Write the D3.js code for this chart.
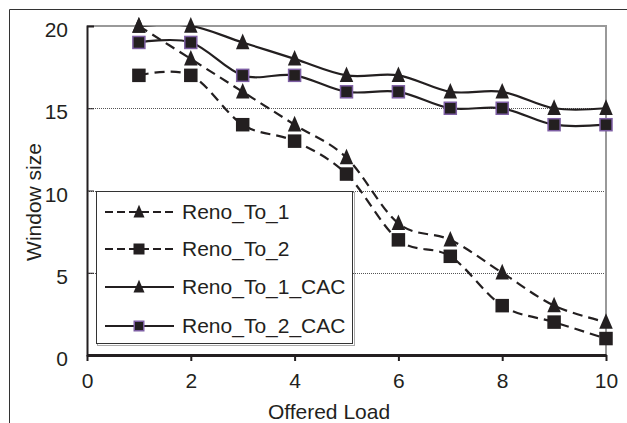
<!DOCTYPE html>
<html><head><meta charset="utf-8">
<script src="https://cdn.jsdelivr.net/npm/d3@7"></script>
<style>body{margin:0;background:#fff}svg{display:block}text{font-family:"Liberation Sans",Arial,sans-serif;fill:#231f20}</style>
</head><body><svg id="c" width="627" height="423"></svg>
<script>
const offeredLoad = [1,2,3,4,5,6,7,8,9,10];
const renoTo1 = [20,18,16,14,12,8,7,5,3,2];
const renoTo2 = [17,17,14,13,11,7,6,3,2,1];
const renoTo1CAC = [20,20,19,18,17,17,16,16,15,15];
const renoTo2CAC = [19,19,17,17,16,16,15,15,14,14];
const seriesNames = ["Reno_To_1","Reno_To_2","Reno_To_1_CAC","Reno_To_2_CAC"];
const xTicks = [0,2,4,6,8,10];
const yTicks = [0,5,10,15,20];

const series = [
  {name:seriesNames[0], values:renoTo1, dash:"10,6", marker:"tri"},
  {name:seriesNames[1], values:renoTo2, dash:"10,6", marker:"sq"},
  {name:seriesNames[2], values:renoTo1CAC, dash:null, marker:"tri"},
  {name:seriesNames[3], values:renoTo2CAC, dash:null, marker:"sqp"}
];

const svg = d3.select("#c");
const ink = "#231f20";
const FS = 21;
const L=87, R=606, T=26, B=355;
const x = d3.scaleLinear().domain([0,10]).range([L,R]);
const y = d3.scaleLinear().domain([0,20]).range([B,T]);

svg.append("defs").append("clipPath").attr("id","pa").append("rect")
  .attr("x",L).attr("y",T).attr("width",R-L).attr("height",B-T);

// outer frame
svg.append("path").attr("d","M9.5,430 V9.5 H640").attr("fill","none").attr("stroke","#333").attr("stroke-width",1);

// gridlines
svg.append("g").selectAll("line").data(yTicks.filter(d=>d>0&&d<20)).join("line")
  .attr("x1",L).attr("x2",R).attr("y1",d=>Math.round(y(d))+0.5).attr("y2",d=>Math.round(y(d))+0.5)
  .attr("stroke","#555").attr("stroke-width",1).attr("stroke-dasharray","1,1");

// plot border top/right
svg.append("path").attr("d",`M${L},${T} H${R} V${B}`).attr("fill","none").attr("stroke","#999").attr("stroke-width",2);

// y axis
const yAxis = d3.axisLeft(y).tickValues(yTicks).tickSize(-7).tickPadding(19).tickFormat(d3.format("d"));
const gy = svg.append("g").attr("transform",`translate(${L},0)`).call(yAxis);
gy.select(".domain").attr("stroke",ink).attr("stroke-width",2);
gy.selectAll(".tick line").attr("stroke",ink).attr("stroke-width",1);
gy.selectAll(".tick text").attr("font-size",FS).attr("fill",ink).attr("dy","0.5em").attr("font-family","Liberation Sans, Arial, sans-serif");

// x axis
const xAxis = d3.axisBottom(x).tickValues(xTicks).tickSize(6).tickPadding(12).tickSizeOuter(0).tickFormat(d3.format("d"));
const gx = svg.append("g").attr("transform",`translate(0,${B})`).call(xAxis);
gx.select(".domain").attr("stroke",ink).attr("stroke-width",3);
gx.selectAll(".tick line").attr("stroke",ink).attr("stroke-width",2);
gx.selectAll(".tick text").attr("font-size",FS).attr("fill",ink).attr("font-family","Liberation Sans, Arial, sans-serif");

// axis titles
svg.append("text").attr("x",329).attr("y",419).attr("text-anchor","middle").attr("font-size",FS).text("Offered Load");
svg.append("text").attr("transform",`translate(41,202) rotate(-90)`).attr("text-anchor","middle").attr("font-size",FS).text("Window size");

// legend box
const lg = svg.append("g");
lg.append("rect").attr("x",97.5).attr("y",192.5).attr("width",257).attr("height",153).attr("fill","none").attr("stroke","#aaa").attr("stroke-width",1);
lg.append("rect").attr("x",96.5).attr("y",191.5).attr("width",256).attr("height",152).attr("fill","#fff").attr("stroke","#333").attr("stroke-width",1);

function marker(g, type, cx, cy, s){
  if(type==="tri"){
    const h = s*1.1, w = s;
    g.append("path").attr("d",`M${cx},${cy-h*0.6} L${cx+w/2},${cy+h*0.45} L${cx-w/2},${cy+h*0.45} Z`).attr("fill",ink);
  } else if(type==="sq"){
    g.append("rect").attr("x",cx-s/2).attr("y",cy-s/2).attr("width",s).attr("height",s).attr("fill",ink);
  } else {
    g.append("rect").attr("x",cx-s/2+0.75).attr("y",cy-s/2+0.75).attr("width",s-1.5).attr("height",s-1.5).attr("fill",ink).attr("stroke","#7d5ea3").attr("stroke-width",1.5);
  }
}

const line = d3.line().x((d,i)=>x(offeredLoad[i])).y(d=>y(d)).curve(d3.curveCatmullRom.alpha(0));
const plot = svg.append("g");
const lines = plot.append("g").attr("clip-path","url(#pa)");
series.forEach(s=>{
  lines.append("path").attr("d",line(s.values)).attr("fill","none").attr("stroke",ink).attr("stroke-width",2.2)
    .attr("stroke-dasharray",s.dash);
});
series.forEach(s=>{
  const g = plot.append("g");
  s.values.forEach((v,i)=>marker(g, s.marker, x(offeredLoad[i]), y(v), 13.5));
});

// legend entries
const rows=[212,249,287,326];
series.forEach((s,i)=>{
  const yy=rows[i];
  lg.append("line").attr("x1",105).attr("x2",174).attr("y1",yy).attr("y2",yy).attr("stroke",ink).attr("stroke-width",2)
    .attr("stroke-dasharray",s.dash?"8,4":null);
  marker(lg, s.marker, 139, yy, 11);
  lg.append("text").attr("x",182).attr("y",yy).attr("dy","0.33em").attr("font-size",FS).text(s.name);
});
</script></body></html>
